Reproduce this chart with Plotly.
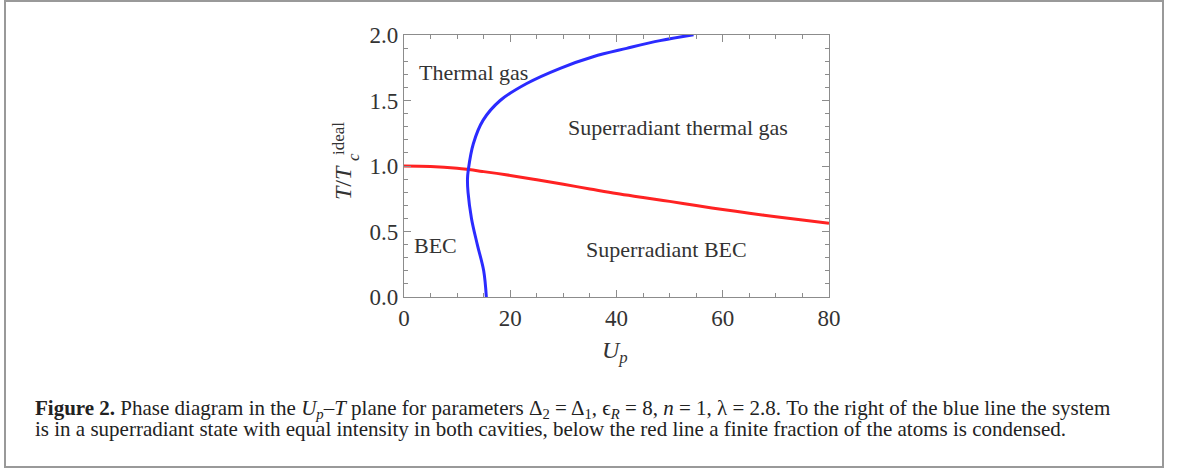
import plotly.graph_objects as go

# ---------------- data ----------------
# blue line: superradiance threshold, U_p as function of T
blue_T = [0.0, 0.2, 0.4, 0.6, 0.8, 0.9, 0.97, 1.17, 1.35, 1.5, 1.63, 1.746, 1.834, 1.898, 1.957, 2.002]
blue_U = [15.5, 15.0, 13.8, 12.7, 12.05, 11.95, 12.1, 13.05, 14.9, 18.1, 23.1, 29.4, 35.6, 41.9, 48.2, 54.5]

# red line: condensation temperature vs U_p
red_U = [0, 5, 10, 15, 20, 25, 30, 35, 40, 45, 50, 55, 60, 65, 70, 75, 80]
red_T = [1.0, 0.996, 0.982, 0.957, 0.928, 0.895, 0.86, 0.825, 0.79, 0.76, 0.73, 0.698, 0.668, 0.64, 0.613, 0.588, 0.563]

x_ticks = [0, 20, 40, 60, 80]
y_ticks = [0.0, 0.5, 1.0, 1.5, 2.0]

region_labels = ["Thermal gas", "BEC", "Superradiant thermal gas", "Superradiant BEC"]
region_U = [13.0, 5.9, 51.5, 49.5]
region_T = [1.71, 0.39, 1.295, 0.364]

caption_line1 = ("<b>Figure 2.</b> Phase diagram in the <i>U<sub>p</sub></i>–<i>T</i> plane for parameters "
                 "Δ<sub>2</sub> = Δ<sub>1</sub>, ϵ<sub><i>R</i></sub> = 8, <i>n</i> = 1, λ = 2.8. "
                 "To the right of the blue line the system")
caption_line2 = ("is in a superradiant state with equal intensity in both cavities, below the red line "
                 "a finite fraction of the atoms is condensed.")

# ---------------- layout geometry ----------------
W, H = 1179, 468
L, R, T_, B = 404, 829, 35, 297


def px(x):
    return (x - L) / (R - L)


def py(y):
    return (B - y) / (B - T_)


SERIF = "Liberation Serif, Times New Roman, serif"
TXT = "#333333"

fig = go.Figure()
fig.add_trace(go.Scatter(x=red_U, y=red_T, mode="lines",
                         line=dict(color="#ff2222", width=3, shape="spline"),
                         showlegend=False, hoverinfo="skip"))
fig.add_trace(go.Scatter(x=blue_U, y=blue_T, mode="lines",
                         line=dict(color="#2b2bff", width=3, shape="spline"),
                         showlegend=False, hoverinfo="skip"))

annotations = []
for lab, u, t in zip(region_labels, region_U, region_T):
    annotations.append(dict(x=u, y=t, xref="x", yref="y", text=lab, showarrow=False,
                            xanchor="center", yanchor="middle",
                            font=dict(family=SERIF, size=22, color=TXT)))


def pap(x, y, text, size, **kw):
    d = dict(x=px(x), y=py(y), xref="paper", yref="paper", text=text, showarrow=False,
             xanchor=kw.pop("xanchor", "center"), yanchor="middle",
             font=dict(family=SERIF, size=size, color=kw.pop("color", TXT)))
    d.update(kw)
    return d


# y axis title (stacked sub/superscript)
annotations.append(pap(343, 183, "<i>T</i>/<i>T</i>", 24, textangle=-90))
annotations.append(pap(353, 157, "<i>c</i>", 17, textangle=-90))
annotations.append(pap(338, 139, "ideal", 17, textangle=-90))
# x axis title
annotations.append(pap(615, 352, "<i>U</i><sub><i>p</i></sub>", 24))
# caption
annotations.append(pap(33, 409, caption_line1, 21, xanchor="left", align="left", color="#222222"))
annotations.append(pap(33, 429, caption_line2, 21, xanchor="left", align="left", color="#222222"))

shapes = [dict(type="rect", xref="paper", yref="paper",
               x0=px(5), x1=px(1163), y0=py(467), y1=py(1),
               line=dict(color="#999999", width=2), fillcolor="rgba(0,0,0,0)", layer="below")]

axis_common = dict(showline=True, linecolor="#8c8c8c", linewidth=1.3, mirror="allticks",
                   ticks="inside", ticklen=7, tickwidth=1, tickcolor="#8c8c8c",
                   showgrid=False, zeroline=False,
                   tickfont=dict(family=SERIF, size=23, color=TXT))

fig.update_layout(
    width=W, height=H,
    margin=dict(l=L, r=W - R, t=T_, b=H - B, pad=0),
    paper_bgcolor="white", plot_bgcolor="white",
    xaxis=dict(range=[0, 80], tickvals=x_ticks, ticktext=[str(v) for v in x_ticks],
               minor=dict(dtick=5, ticks="inside", ticklen=4, tickcolor="#8c8c8c", showgrid=False),
               **axis_common),
    yaxis=dict(range=[0, 2], tickvals=y_ticks, ticktext=[f"{v:.1f}" for v in y_ticks],
               minor=dict(dtick=0.1, ticks="inside", ticklen=4, tickcolor="#8c8c8c", showgrid=False),
               **axis_common),
    annotations=annotations,
    shapes=shapes,
    showlegend=False,
)

fig.write_html("out.html")
